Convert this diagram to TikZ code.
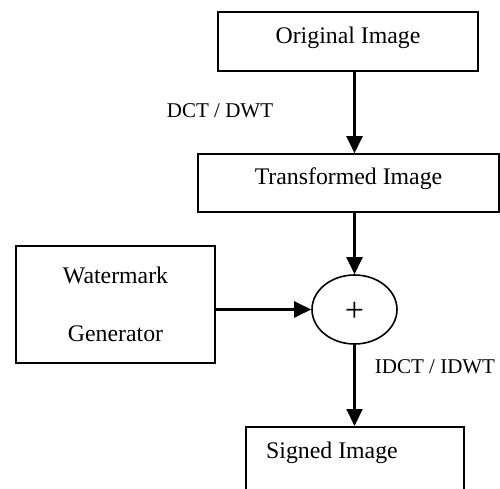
\documentclass[tikz,border=0pt]{standalone}
\usepackage{fontspec}
\setmainfont{Liberation Serif}
\usetikzlibrary{arrows.meta,shapes.geometric}
\def\boxfont{\fontsize{23.8pt}{28pt}\selectfont}
\def\labfont{\fontsize{21pt}{25pt}\selectfont}

\begin{document}
\begin{tikzpicture}[x=1pt,y=1pt,
    block/.style={draw,line width=1.6pt,inner sep=0pt,font=\boxfont},
    oneline/.style={text height=16pt,text depth=12pt},
    flow/.style={-{Triangle[length=17pt,width=16pt]},line width=2.2pt},
    tag/.style={font=\labfont,anchor=base}]
    \useasboundingbox (0,0) rectangle (500,488);
    \node[block,oneline,minimum width=260pt,minimum height=59pt] (orig) at (348,446.5) {Original Image};
    \node[block,oneline,minimum width=301pt,minimum height=58pt] (trans) at (348.5,305) {Transformed Image};
    \node[block,align=center,minimum width=199pt,minimum height=117pt,font=\fontsize{23.8pt}{58pt}\selectfont] (wmgen) at (115.5,183.5) {Watermark\\Generator};
    \node[draw,ellipse,line width=1.6pt,minimum width=85pt,minimum height=69pt,inner sep=0pt,text height=24pt,text depth=0pt,font=\fontsize{34pt}{40pt}\selectfont] (plus) at (354.5,178.5) {+};
    \node[block,anchor=north west,minimum width=218pt,minimum height=80pt] (signed) at (245,62) {};
    \node[font=\boxfont,anchor=base west,inner sep=0pt] (signedtext) at (266,30) {Signed Image};
    \node[tag] (dct) at (220,370) {DCT / DWT};
    \node[tag] (idct) at (435,115) {IDCT / IDWT};
    \draw[flow] (plus |- orig.south) -- (plus |- trans.north);
    \draw[flow] (plus |- trans.south) -- (plus.north);
    \draw[flow] (wmgen.east |- plus) -- (plus.west);
    \draw[flow] (plus.south) -- (plus |- signed.north);
\end{tikzpicture}
\end{document}
